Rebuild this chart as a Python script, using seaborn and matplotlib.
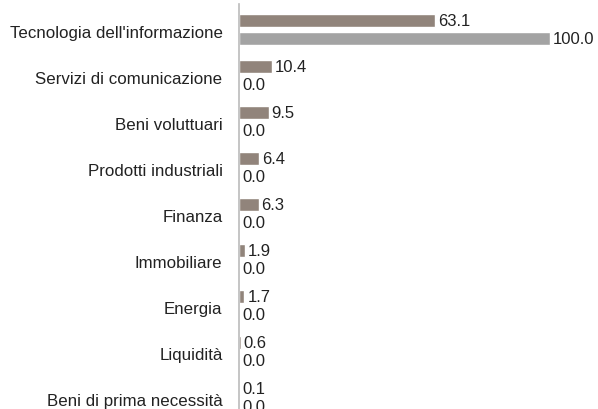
import pandas as pd
import matplotlib
matplotlib.use("Agg")
import matplotlib.pyplot as plt
import matplotlib.transforms as mtransforms
import seaborn as sns

categorie = ["Tecnologia dell'informazione", "Servizi di comunicazione", "Beni voluttuari",
             "Prodotti industriali", "Finanza", "Immobiliare", "Energia", "Liquidità",
             "Beni di prima necessità"]
fondo = [63.1, 10.4, 9.5, 6.4, 6.3, 1.9, 1.7, 0.6, 0.1]
indice = [100.0, 0.0, 0.0, 0.0, 0.0, 0.0, 0.0, 0.0, 0.0]
serie = ["Fondo", "Indice"]

sns.set_theme(style="white")
plt.rcParams['font.family'] = ['Liberation Sans', 'DejaVu Sans']

df = pd.DataFrame({
    "categoria": categorie * 2,
    "valore": fondo + indice,
    "serie": [serie[0]] * len(categorie) + [serie[1]] * len(categorie),
})

fig = plt.figure(figsize=(5.98, 4.10), dpi=100)
ax = fig.add_axes([0.4, 0.0, 0.59, 0.988])

sns.barplot(data=df, y="categoria", x="valore", hue="serie", orient="h",
            palette=["#958377", "#a3a3a3"], width=0.78, gap=0.3,
            legend=False, ax=ax)

for cont in ax.containers:
    ax.bar_label(cont, fmt="%.1f", padding=2, fontsize=12, color="#222222")

ax.set_xlim(0, 113.5)
ax.set_ylim(8.25, -0.554)
ax.set_xlabel("")
ax.set_ylabel("")
ax.set_xticks([])
ax.tick_params(axis="y", length=0, pad=12, labelsize=12.2, labelcolor="#222222")

# category labels sit a touch below the middle of each bar pair
shift = mtransforms.ScaledTranslation(0, -2 / 100, fig.dpi_scale_trans)
for lbl in ax.get_yticklabels():
    lbl.set_transform(lbl.get_transform() + shift)

for s in ["top", "right", "bottom"]:
    ax.spines[s].set_visible(False)
ax.spines["left"].set_color("#bbbbbb")
ax.spines["left"].set_linewidth(1.2)

fig.savefig("out.png", dpi=100)
